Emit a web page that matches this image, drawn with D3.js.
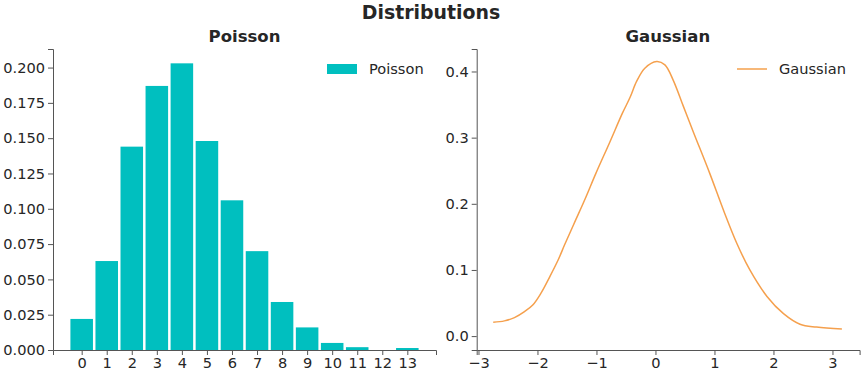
<!DOCTYPE html>
<html>
<head>
<meta charset="utf-8">
<script src="https://cdn.jsdelivr.net/npm/d3@7"></script>
<style>
  body { margin: 0; background: #fff; }
  svg { font-family: "DejaVu Sans", sans-serif; }
  .axis path, .axis line { stroke: #555; stroke-width: 1; }
</style>
</head>
<body>
<div class="chart"></div>
<script>
// valeurs
const poissonK = [0, 1, 2, 3, 4, 5, 6, 7, 8, 9, 10, 11, 12, 13];
const poissonFreq = [0.022, 0.063, 0.144, 0.187, 0.203, 0.148, 0.106, 0.070, 0.034, 0.016, 0.005, 0.002, 0, 0.0014];
const poissonTicks = [0.000, 0.025, 0.050, 0.075, 0.100, 0.125, 0.150, 0.175, 0.200];

const gaussX = [-2.75, -2.56, -2.39, -2.22, -2.08, -1.94, -1.79, -1.65, -1.54, -1.43, -1.35, -1.18, -1.01, -0.78,
    -0.56, -0.43, -0.32, -0.18, 0.02, 0.16, 0.30, 0.47, 0.64, 0.92, 1.15, 1.38, 1.6, 1.89, 2.17, 2.45, 2.73, 3.16];
const gaussY = [0.021, 0.023, 0.028, 0.037, 0.047, 0.065, 0.090, 0.115, 0.138, 0.160, 0.176, 0.210, 0.246, 0.292,
    0.337, 0.361, 0.385, 0.405, 0.415, 0.410, 0.387, 0.348, 0.309, 0.246, 0.191, 0.140, 0.100, 0.060, 0.034, 0.018, 0.0136, 0.0106];
const gaussXTicks = [-3, -2, -1, 0, 1, 2, 3];
const gaussYTicks = [0.0, 0.1, 0.2, 0.3, 0.4];

const width = 862, height = 375;
const plotTop = 49, plotBottom = 350;

const svg = d3.select('.chart').append('svg')
    .attr('width', width)
    .attr('height', height);

// applique le style des ticks (d3 met font-size 10 par défaut)
function styleAxis(g) {
    g.attr('font-family', '"DejaVu Sans", sans-serif').attr('font-size', null);
    g.selectAll('text').style('font-size', '14.6px').attr('fill', '#262626');
}

// titre général
svg.append('text')
    .attr('x', width / 2).attr('y', 19)
    .attr('text-anchor', 'middle')
    .attr('font-size', 18.9).attr('font-weight', 'bold')
    .attr('fill', '#262626')
    .text('Distributions');

// ---- Poisson ----
const x1 = d3.scaleLinear().domain([-1.145, 14.145]).range([53, 436]);
const y1 = d3.scaleLinear().domain([0, 0.21315]).range([plotBottom, plotTop]);

svg.selectAll('.bar')
    .data(poissonK)
    .enter()
    .append('rect')
    .attr('class', 'bar')
    .attr('x', d => x1(d - 0.45))
    .attr('width', x1(0.45) - x1(-0.45))
    .attr('y', (d, i) => y1(poissonFreq[i]))
    .attr('height', (d, i) => y1(0) - y1(poissonFreq[i]))
    .attr('fill', '#00bfbf');

svg.append('g')
    .attr('class', 'axis')
    .attr('transform', `translate(0,${plotBottom})`)
    .call(d3.axisBottom(x1).tickValues(poissonK).tickFormat(d3.format('d')).tickSizeOuter(0).tickSize(5).tickPadding(3))
    .call(styleAxis);

svg.append('g')
    .attr('class', 'axis')
    .attr('transform', `translate(53,0)`)
    .call(d3.axisLeft(y1).tickValues(poissonTicks).tickFormat(d3.format('.3f')).tickSizeOuter(0).tickSize(5).tickPadding(3))
    .call(styleAxis);

svg.append('text')
    .attr('x', (53 + 436) / 2).attr('y', 42)
    .attr('text-anchor', 'middle')
    .attr('font-size', 16.5).attr('font-weight', 'bold')
    .attr('fill', '#262626')
    .text('Poisson');

// légende
svg.append('rect')
    .attr('x', 327).attr('y', 64).attr('width', 30).attr('height', 10)
    .attr('fill', '#00bfbf');
svg.append('text')
    .attr('x', 369).attr('y', 74)
    .attr('font-size', 14.6).attr('fill', '#262626')
    .text('Poisson');

// ---- Gaussian ----
const x2 = d3.scaleLinear().domain([-3.03, 3.46]).range([476.7, 859.6]);
const y2 = d3.scaleLinear().domain([-0.021, 0.434]).range([plotBottom, plotTop]);

const line = d3.line()
    .x((d, i) => x2(gaussX[i]))
    .y((d, i) => y2(gaussY[i]))
    .curve(d3.curveCatmullRom.alpha(0.5));

svg.append('path')
    .datum(gaussX)
    .attr('d', line)
    .attr('fill', 'none')
    .attr('stroke', '#f5a04d')
    .attr('stroke-width', 1.5);

svg.append('g')
    .attr('class', 'axis')
    .attr('transform', `translate(0,${plotBottom})`)
    .call(d3.axisBottom(x2).tickValues(gaussXTicks).tickFormat(d3.format('d')).tickSizeOuter(0).tickSize(5).tickPadding(3))
    .call(styleAxis);

svg.append('g')
    .attr('class', 'axis')
    .attr('transform', `translate(476.7,0)`)
    .call(d3.axisLeft(y2).tickValues(gaussYTicks).tickFormat(d3.format('.1f')).tickSizeOuter(0).tickSize(5).tickPadding(3))
    .call(styleAxis);

svg.append('text')
    .attr('x', (476.7 + 859) / 2).attr('y', 42)
    .attr('text-anchor', 'middle')
    .attr('font-size', 16.5).attr('font-weight', 'bold')
    .attr('fill', '#262626')
    .text('Gaussian');

svg.append('line')
    .attr('x1', 737).attr('x2', 767).attr('y1', 69).attr('y2', 69)
    .attr('stroke', '#f5a04d').attr('stroke-width', 1.5);
svg.append('text')
    .attr('x', 779).attr('y', 74)
    .attr('font-size', 14.6).attr('fill', '#262626')
    .text('Gaussian');
</script>
</body>
</html>
